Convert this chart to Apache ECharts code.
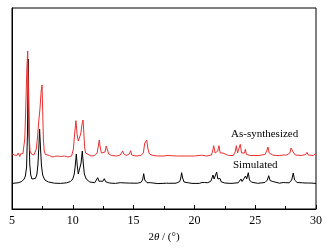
<!DOCTYPE html>
<html><head><meta charset="utf-8">
<script src="https://cdn.jsdelivr.net/npm/echarts@6/dist/echarts.min.js"></script>
<style>html,body{margin:0;padding:0;background:#fff}#c{width:330px;height:248px}</style>
</head><body><div id="c"></div>
<script>
const xTicks = [5, 10, 15, 20, 25, 30];
const seriesNames = ['As-synthesized', 'Simulated'];
const simulated = [
[5.0,25.6],[5.5,26.2],[5.8,27.5],[6.0,30],[6.1,33],[6.2,42],[6.27,75],[6.34,150],[6.4,75],[6.46,45],[6.54,34],[6.64,30],[6.78,29],[6.92,30.5],[7.04,34],[7.13,44],[7.21,62],[7.27,80],[7.34,62],[7.42,44],[7.52,34],[7.7,29],[8.0,27],[8.5,25.8],[9.0,25.6],[9.5,26.2],[9.8,27.5],[10.0,30],[10.12,35],[10.2,43],[10.29,55],[10.37,43],[10.45,35],[10.53,34],[10.6,37],[10.68,46],[10.78,58],[10.86,46],[10.95,35],[11.1,30],[11.4,27],[11.8,26.3],[11.95,27.5],[12.05,31.3],[12.15,27.8],[12.3,26.8],[12.48,27.8],[12.59,30.3],[12.7,27.3],[13.0,26],[13.5,25.6],[13.9,26.3],[13.96,27],[14.05,25.9],[14.45,26],[14.54,27.3],[14.65,25.9],[15.3,25.8],[15.6,26.6],[15.74,29],[15.83,35.3],[15.92,29],[16.1,26.3],[16.4,26.3],[16.5,25.6],[17.0,25.4],[17.7,25.8],[17.8,27],[17.9,25.7],[18.5,25.8],[18.8,27.5],[18.88,31],[18.95,36.3],[19.03,31],[19.15,27],[19.5,26.2],[19.6,26.6],[19.8,25.6],[20.4,25.6],[20.62,26.5],[20.73,27.7],[20.82,26.5],[21.1,26.3],[21.35,27.8],[21.45,31],[21.53,34],[21.62,30],[21.7,31],[21.83,37],[21.93,30],[22.0,30],[22.1,30.7],[22.2,27.2],[22.5,26],[23.0,25.6],[23.6,26.2],[23.75,28],[23.83,30],[23.92,27.5],[24.05,28],[24.21,33],[24.3,30],[24.43,36.3],[24.53,29],[24.7,26.8],[25.2,25.7],[25.8,26.5],[26.0,29],[26.11,33.3],[26.22,28.5],[26.35,27],[26.45,27.5],[26.6,26.2],[27.0,25.8],[27.3,26.5],[27.42,28],[27.52,26.3],[27.8,26.2],[28.0,29],[28.13,36],[28.24,29],[28.45,26.5],[28.9,26.2],[29.0,27],[29.1,26],[29.4,26],[29.5,26.8],[29.6,25.9],[30.0,25.6]
];
const asSynthesized = [
[5.0,55],[5.1,54.5],[5.15,57],[5.2,54],[5.3,55.5],[5.4,53.5],[5.5,56],[5.55,54],[5.65,52.5],[5.7,55],[5.8,54],[5.9,55.5],[5.95,57],[6.05,70],[6.13,100],[6.22,140],[6.29,158],[6.35,120],[6.41,75],[6.48,58],[6.6,55],[6.7,56],[6.8,54],[6.9,55],[7.0,60],[7.1,72],[7.2,88],[7.3,100],[7.4,118],[7.47,124],[7.52,100],[7.58,70],[7.65,58],[7.75,54.5],[7.9,53],[8.1,53.5],[8.3,52],[8.5,52.5],[8.7,53],[9.0,52.5],[9.3,53],[9.6,52],[9.9,53],[10.05,60],[10.15,75],[10.26,88.3],[10.35,75],[10.45,68],[10.55,69],[10.65,75],[10.75,84],[10.84,89],[10.9,78],[10.97,62],[11.05,56],[11.2,54],[11.5,53],[11.8,53.5],[12.0,56],[12.1,63],[12.18,69],[12.25,62],[12.35,56],[12.5,54],[12.65,57],[12.75,63],[12.81,65],[12.88,58],[12.95,55],[13.2,53.5],[13.6,53],[13.9,54],[14.0,56],[14.1,58],[14.2,55],[14.4,53.5],[14.65,55],[14.76,58.3],[14.85,54],[15.2,53],[15.6,53.5],[15.8,56],[15.92,66],[16.0,65],[16.08,69],[16.18,60],[16.3,55],[16.6,53.5],[17.0,53],[17.5,53],[17.75,53.5],[17.83,55],[17.92,53.5],[18.5,53],[19.3,53],[20.0,53],[20.6,53.8],[20.7,53],[21.0,53],[21.4,54],[21.5,58],[21.59,63.3],[21.7,56],[21.8,54],[21.92,58],[22.02,63.3],[22.12,56],[22.25,54],[22.35,56],[22.4,57.3],[22.5,54.5],[22.8,53.5],[23.2,53.5],[23.35,57],[23.45,63.3],[23.55,56],[23.65,57],[23.77,64.7],[23.88,56],[24.0,54],[24.12,56],[24.19,59.7],[24.28,54.5],[24.6,53.5],[25.3,53.5],[25.8,54.5],[25.95,58],[26.05,62],[26.15,56],[26.3,54],[26.45,54],[26.55,55.7],[26.65,53.5],[27.0,53.5],[27.35,54],[27.48,55.3],[27.6,54],[27.85,56],[27.95,61],[28.03,62.3],[28.12,57],[28.3,54],[28.8,53.5],[29.15,54.5],[29.26,56.7],[29.36,54],[29.8,53.5],[29.95,55],[30.0,56]
];

const FONT = '"Liberation Serif", "Times New Roman", serif';
const chart = echarts.init(document.getElementById('c'), null, {renderer: 'canvas'});
chart.setOption({
  animation: false,
  backgroundColor: '#fff',
  grid: {left: 12, right: 14, top: 8, bottom: 39, show: true, borderColor: '#000', borderWidth: 1},
  xAxis: {
    type: 'value', min: xTicks[0], max: xTicks[xTicks.length - 1], interval: 5,
    axisLine: {show: true, lineStyle: {color: '#000', width: 1}},
    axisTick: {show: true, inside: true, length: 4, lineStyle: {color: '#000'}},
    minorTick: {show: true, splitNumber: 2, length: 3, lineStyle: {color: '#000'}},
    splitLine: {show: false},
    axisLabel: {color: '#000', fontFamily: FONT, fontSize: 12, margin: 6},
    name: '{a|2}{i|θ}{a| / (°)}', nameLocation: 'middle', nameGap: 20,
    nameTextStyle: {rich: {a: {fontFamily: FONT, fontSize: 11, color: '#000'}, i: {fontFamily: FONT, fontSize: 11, fontStyle: 'italic', color: '#000'}}}
  },
  yAxis: {
    type: 'value', min: 0, max: 201,
    axisLine: {show: true, lineStyle: {color: '#000'}},
    axisTick: {show: false}, axisLabel: {show: false}, splitLine: {show: false}
  },
  series: [
    {name: seriesNames[1], type: 'line', data: simulated, showSymbol: false, symbol: 'none',
     lineStyle: {color: '#000', width: 1}, z: 2},
    {name: seriesNames[0], type: 'line', data: asSynthesized, showSymbol: false, symbol: 'none',
     lineStyle: {color: '#ec3030', width: 1}, z: 3}
  ],
  graphic: [
    {type: 'text', left: 231, top: 129, style: {text: seriesNames[0], font: '11px ' + FONT, fill: '#000'}},
    {type: 'text', left: 233, top: 160, style: {text: seriesNames[1], font: '11px ' + FONT, fill: '#000'}}
  ]
});
</script></body></html>
